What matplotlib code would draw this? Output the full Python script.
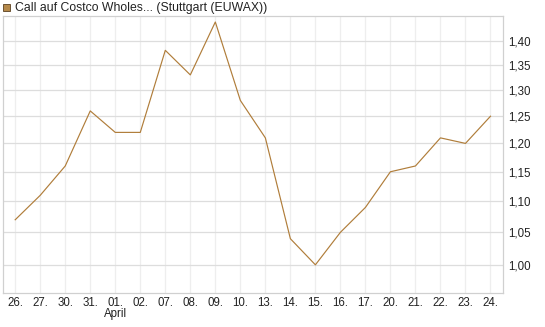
import matplotlib.pyplot as plt
from matplotlib.ticker import NullLocator, FixedLocator
from matplotlib.patches import Rectangle

plt.rcParams['font.family'] = ['Liberation Sans', 'DejaVu Sans']

days = ['26.', '27.', '30.', '31.', '01.', '02.', '07.', '08.', '09.', '10.',
        '13.', '14.', '15.', '16.', '17.', '20.', '21.', '22.', '23.', '24.']
prices = [1.07, 1.11, 1.16, 1.26, 1.22, 1.22, 1.38, 1.33, 1.44, 1.28,
          1.21, 1.04, 1.00, 1.05, 1.09, 1.15, 1.16, 1.21, 1.20, 1.25]
y_ticks = [1.00, 1.05, 1.10, 1.15, 1.20, 1.25, 1.30, 1.35, 1.40]
title = 'Call auf Costco Wholes... (Stuttgart (EUWAX))'

line_color = '#b07d3a'

fig = plt.figure(figsize=(5.45, 3.27), dpi=100)
ax = fig.add_axes([2.7 / 545, 34.3 / 327, 500.3 / 545, 276.7 / 327])

x = list(range(len(days)))
ax.plot(x, prices, color=line_color, lw=0.85, zorder=3)

ax.set_yscale('log')
ax.set_ylim(0.959, 1.453)
ax.set_xlim(-0.5, len(days) - 0.5)
ax.yaxis.set_major_locator(FixedLocator(y_ticks))
ax.yaxis.set_minor_locator(NullLocator())
ax.set_yticklabels([f'{v:.2f}'.replace('.', ',') for v in y_ticks])
ax.yaxis.tick_right()
ax.set_xticks(x)
ax.set_xticklabels(days)

ax.tick_params(axis='both', length=0, labelsize=8.3, colors='#222222')
ax.tick_params(axis='y', pad=4)
ax.tick_params(axis='x', pad=3)

for v in y_ticks:
    ax.axhline(v, color='#dddddd', lw=0.9, zorder=1)
for xi in x:
    ax.axvline(xi, color='#eeeeee', lw=0.9, zorder=0)

for s in ax.spines.values():
    s.set_color('#d0d0d0')
    s.set_linewidth(0.9)

ax.text(4, -15.5 / 276.7, 'April', transform=ax.get_xaxis_transform(),
        ha='center', va='top', fontsize=8.3, color='#222222')

fig.patches.append(Rectangle((3 / 545, 1 - 11 / 327), 7 / 545, 7 / 327,
                             transform=fig.transFigure, facecolor='#b5894a',
                             edgecolor='#5a4020', lw=0.6))
fig.text(15 / 545, 1 - 7.5 / 327, title, ha='left', va='center',
         fontsize=8.8, color='#222222')

fig.savefig('out.png', dpi=100)
